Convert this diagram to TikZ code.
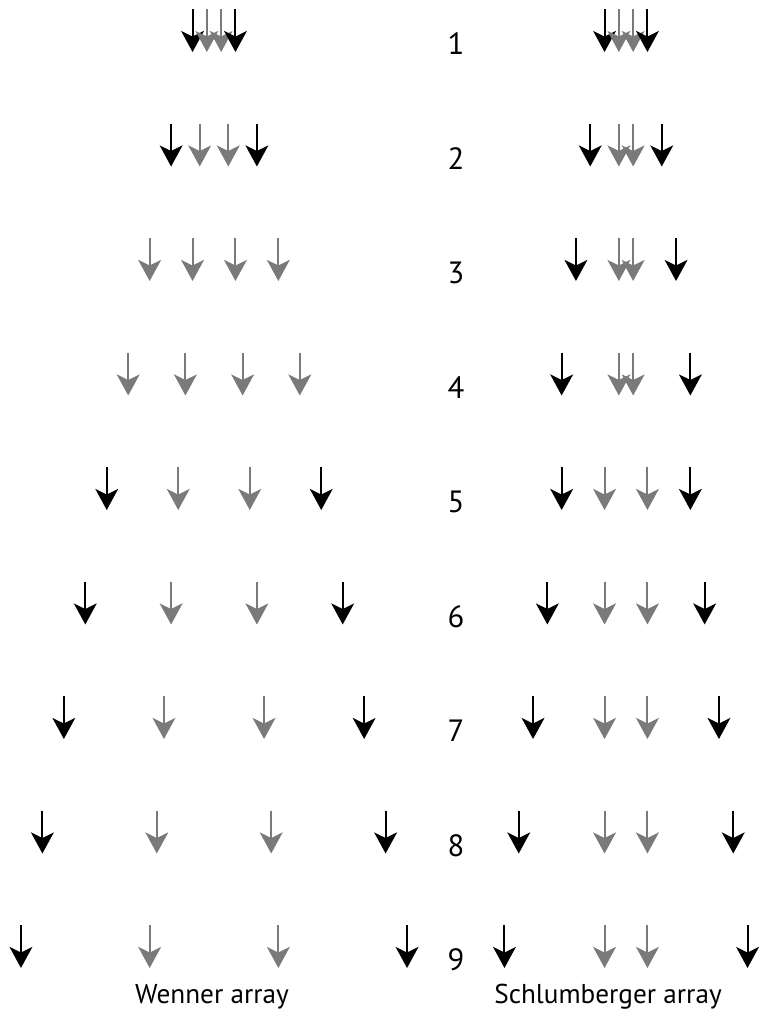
\documentclass[tikz,border=0pt]{standalone}
\usepackage{fontspec}
\setmainfont{PT Sans}
\usetikzlibrary{arrows.meta}

\begin{document}
\begin{tikzpicture}[x=0.02cm, y=-0.02cm,
  elec/.style={line width=1.15pt, -{Stealth[length=12pt, width=13pt, inset=3.2pt]}},
  cur/.style={elec, black},
  pot/.style={elec, black!52},
  num/.style={font=\fontsize{17.5}{17.5}\selectfont},
  legend/.style={font=\fontsize{15.5}{15.5}\selectfont}]
	\useasboundingbox (0,0) rectangle (764,1021);
	% row / outer and inner half-spacing (Schlumberger) / colour of outer Wenner pair
	\foreach \r/\so/\si/\wc in {1/1.5/0.5/cur, 2/2.5/0.5/cur, 3/3.5/0.5/pot, 4/4.5/0.5/pot, 5/4.5/1.5/cur, 6/5.5/1.5/cur, 7/6.5/1.5/cur, 8/7.5/1.5/cur, 9/8.5/1.5/cur} {
		\pgfmathsetmacro\yt{9+(\r-1)*114.5}
		\pgfmathsetmacro\d{14.3*\r}
		% Wenner array
		\draw[\wc] (214-1.5*\d,\yt) -- ++(0,43);
		\draw[pot] (214-0.5*\d,\yt) -- ++(0,43);
		\draw[pot] (214+0.5*\d,\yt) -- ++(0,43);
		\draw[\wc] (214+1.5*\d,\yt) -- ++(0,43);
		% Schlumberger array
		\draw[cur] (626-14.3*\so,\yt) -- ++(0,43);
		\draw[pot] (626-14.3*\si,\yt) -- ++(0,43);
		\draw[pot] (626+14.3*\si,\yt) -- ++(0,43);
		\draw[cur] (626+14.3*\so,\yt) -- ++(0,43);
		\node[num] (n\r) at (456,\yt+35) {\r};
	}
	\node[legend] (wenner) at (212,997) {Wenner array};
	\node[legend] (schlum) at (608,997) {Schlumberger array};
\end{tikzpicture}
\end{document}
